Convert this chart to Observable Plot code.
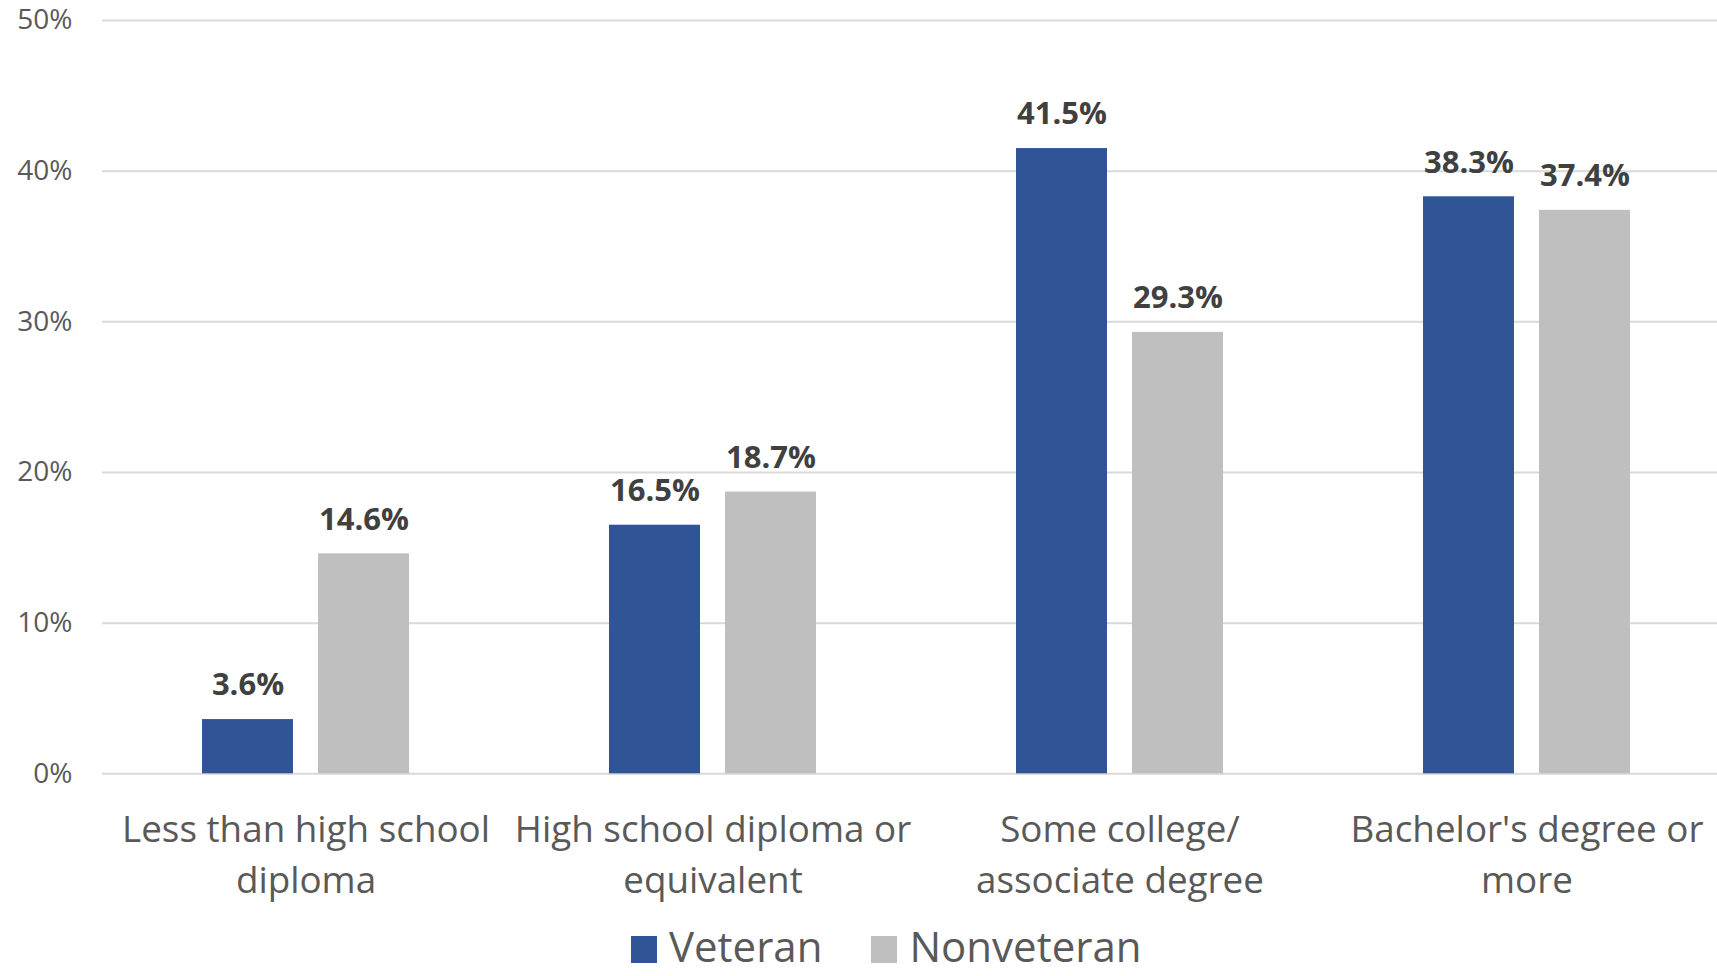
<!DOCTYPE html>
<html>
<head>
<meta charset="utf-8">
<script src="https://cdn.jsdelivr.net/npm/d3@7"></script>
<script src="https://cdn.jsdelivr.net/npm/@observablehq/plot@0.6"></script>
<style>
  html, body { margin: 0; padding: 0; background: #fff; overflow: hidden; width: 1717px; height: 976px; }
  #chart svg { display: block; max-width: none !important; }
  .legend {
    display: flex; align-items: center; padding-left: 631px; margin-top: 4px;
    font-family: "Open Sans", sans-serif; font-size: 42px; color: #595959; line-height: 34px;
    white-space: nowrap;
  }
  .legend .item { display: flex; align-items: center; }
  .legend .item + .item { margin-left: 49px; }
  .legend .sw { width: 26px; height: 27px; margin-right: 12px; position: relative; top: 3px; }
  .legend .txt { display: inline-block; line-height: 34px; }
</style>
</head>
<body>
<div id="chart"></div>
<div class="legend" id="legend"></div>
<script>
// Educational attainment, veterans vs. nonveterans (percent of each group)
const categories = [
  "Less than high school diploma",
  "High school diploma or equivalent",
  "Some college/ associate degree",
  "Bachelor's degree or more"
];
const categoryLines = [
  "Less than high school\ndiploma",
  "High school diploma or\nequivalent",
  "Some college/\nassociate degree",
  "Bachelor's degree or\nmore"
];
const series = ["Veteran", "Nonveteran"];
const veteran = [3.6, 16.5, 41.5, 38.3];
const nonveteran = [14.6, 18.7, 29.3, 37.4];
const seriesColors = ["#2F5597", "#BFBFBF"];
const yTicks = [0, 10, 20, 30, 40, 50];

const rows = categories.flatMap((c, i) => [
  {category: c, series: series[0], value: veteran[i]},
  {category: c, series: series[1], value: nonveteran[i]}
]);

const chart = Plot.plot({
  width: 1730,
  height: 925,
  marginLeft: 102,
  marginRight: 0,
  marginTop: 20,
  marginBottom: 151.7,
  style: {fontFamily: "'Open Sans', sans-serif", background: "#fff", maxWidth: "none"},
  fx: {domain: categories, padding: 0, label: null},
  x: {domain: series, paddingInner: 0.2155, paddingOuter: 0.862, axis: null},
  y: {domain: [0, 50], label: null},
  color: {domain: series, range: seriesColors},
  marks: [
    Plot.gridY(yTicks, {stroke: "#D9D9D9", strokeOpacity: 1, strokeWidth: 2}),
    Plot.axisY(yTicks, {
      tickSize: 0, tickPadding: 30, tickFormat: d => d + "%",
      fontSize: 28, fill: "#595959", label: null
    }),
    Plot.axisFx({
      anchor: "bottom", tickSize: 0, tickPadding: 32, fontSize: 36.8,
      lineHeight: 51 / 36.8, fill: "#595959", label: null,
      tickFormat: c => categoryLines[categories.indexOf(c)]
    }),
    Plot.barY(rows, {fx: "category", x: "series", y: "value", fill: "series"}),
    Plot.text(rows, {
      fx: "category", x: "series", y: "value",
      text: d => d.value.toFixed(1) + "%",
      dy: -34, fontSize: 31, fontWeight: 700, fill: "#404040"
    })
  ]
});
document.getElementById("chart").appendChild(chart);

const legend = document.getElementById("legend");
series.forEach((s, i) => {
  const item = document.createElement("div");
  item.className = "item";
  const sw = document.createElement("span");
  sw.className = "sw";
  sw.style.background = seriesColors[i];
  const label = document.createElement("span");
  label.className = "txt";
  label.textContent = s;
  item.appendChild(sw);
  item.appendChild(label);
  legend.appendChild(item);
});
</script>
</body>
</html>
